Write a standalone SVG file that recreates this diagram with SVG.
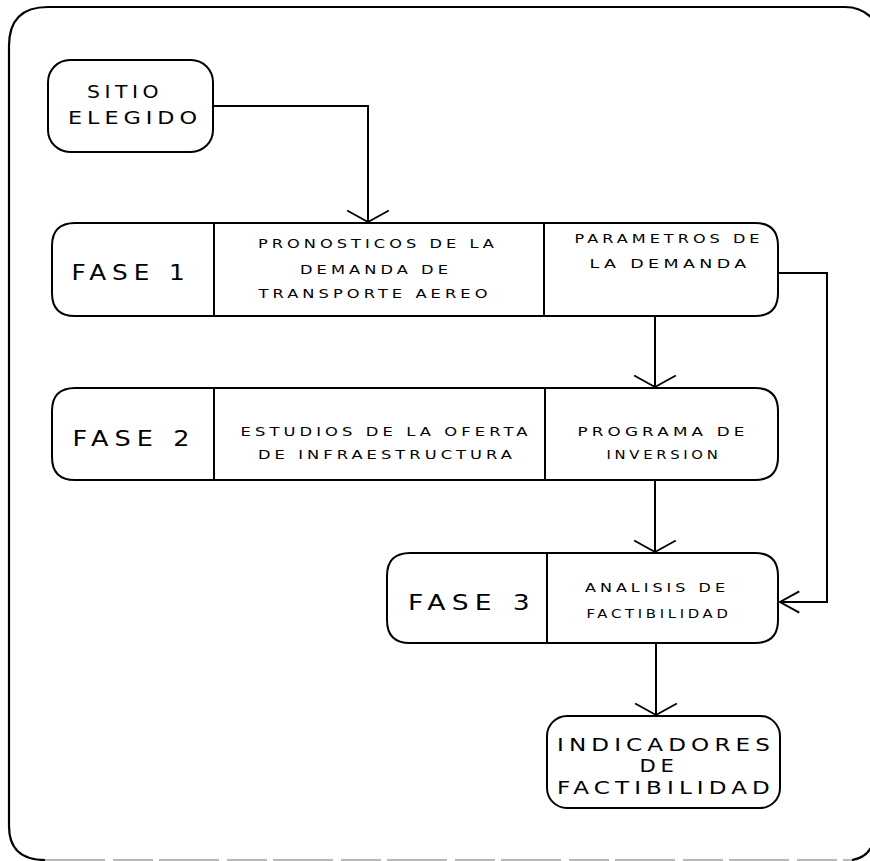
<svg xmlns="http://www.w3.org/2000/svg" width="870" height="861" viewBox="0 0 870 861">
  <style>
    .box { fill: none; stroke: #000; stroke-width: 2; stroke-linejoin: round; }
    .div { stroke: #000; stroke-width: 2; }
    .wire { fill: none; stroke: #000; stroke-width: 2; }
    .frame { fill: none; stroke: #000; stroke-width: 2.2; }
    .frame-base { fill: none; stroke: #b8b8b8; stroke-width: 2; stroke-dasharray: 60 8 40 6; }
    text { font-family: "DejaVu Sans", "Liberation Sans", sans-serif; fill: #000; text-anchor: middle; }
    .big { font-size: 21px; letter-spacing: 5px; }
    .mid { font-size: 18px; letter-spacing: 4px; }
    .small { font-size: 12px; letter-spacing: 3px; }
  </style>
  <defs>
    <marker id="vee" markerUnits="userSpaceOnUse" markerWidth="30" markerHeight="50" refX="0" refY="0" viewBox="-14 -24 18 48" orient="auto" overflow="visible">
      <path d="M -11 -20 L 0 0 L -11 20" fill="none" stroke="#000" stroke-width="1.8"/>
    </marker>
    <marker id="vee-narrow" markerUnits="userSpaceOnUse" markerWidth="30" markerHeight="30" refX="0" refY="0" viewBox="-20 -14 24 28" orient="auto" overflow="visible">
      <path d="M -18 -10 L 0 0 L -18 10" fill="none" stroke="#000" stroke-width="1.8"/>
    </marker>
  </defs>

  <rect width="870" height="861" fill="#fff"/>

  <!-- outer frame -->
  <g id="frame">
    <path class="frame" d="M 45 860 Q 9 860 9 826 V 46 Q 9 7 48 7 H 845 Q 866 7 878 26"/>
    <path class="frame" d="M 852 860 Q 866 858 872 846"/>
    <line class="frame-base" x1="45" y1="860" x2="852" y2="860"/>
  </g>

  <!-- connectors -->
  <g id="connectors">
    <path class="wire" d="M 213 106 H 368 V 222" marker-end="url(#vee)"/>
    <path class="wire" d="M 778 273 H 827 V 602 H 780" marker-end="url(#vee-narrow)"/>
    <path class="wire" d="M 655 316 V 387" marker-end="url(#vee)"/>
    <path class="wire" d="M 655 480 V 552" marker-end="url(#vee)"/>
    <path class="wire" d="M 656 643 V 715" marker-end="url(#vee)"/>
  </g>

  <!-- text widths include the trailing letter gap, so x sits half a gap right of the visible centre -->
  <g id="sitio">
    <rect class="box" x="48" y="60" width="165" height="92" rx="22"/>
    <text class="mid" x="125" y="98" textLength="76" lengthAdjust="spacingAndGlyphs">SITIO</text>
    <text class="mid" x="135" y="124" textLength="134" lengthAdjust="spacingAndGlyphs">ELEGIDO</text>
  </g>

  <g id="fase1">
    <path class="box" d="M 75 223 H 755 Q 778 223 778 246 V 293 Q 778 316 755 316 H 75 Q 52 316 52 293 V 246 Q 52 223 75 223 Z"/>
    <line class="div" x1="214" y1="223" x2="214" y2="316"/>
    <line class="div" x1="544" y1="223" x2="544" y2="316"/>
    <text class="big" x="131" y="280" textLength="119" lengthAdjust="spacingAndGlyphs">FASE 1</text>
    <text class="small" x="378" y="248" textLength="240" lengthAdjust="spacingAndGlyphs">PRONOSTICOS DE LA</text>
    <text class="small" x="376" y="274" textLength="152" lengthAdjust="spacingAndGlyphs">DEMANDA DE</text>
    <text class="small" x="375" y="298" textLength="233" lengthAdjust="spacingAndGlyphs">TRANSPORTE AEREO</text>
    <text class="small" x="669" y="243" textLength="189" lengthAdjust="spacingAndGlyphs">PARAMETROS DE</text>
    <text class="small" x="670" y="268" textLength="161" lengthAdjust="spacingAndGlyphs">LA DEMANDA</text>
  </g>

  <g id="fase2">
    <path class="box" d="M 75 388 H 755 Q 778 388 778 411 V 457 Q 778 480 755 480 H 75 Q 52 480 52 457 V 411 Q 52 388 75 388 Z"/>
    <line class="div" x1="214" y1="388" x2="214" y2="480"/>
    <line class="div" x1="545" y1="388" x2="545" y2="480"/>
    <text class="big" x="134" y="446" textLength="123" lengthAdjust="spacingAndGlyphs">FASE 2</text>
    <text class="small" x="386" y="436" textLength="291" lengthAdjust="spacingAndGlyphs">ESTUDIOS DE LA OFERTA</text>
    <text class="small" x="387" y="459" textLength="258" lengthAdjust="spacingAndGlyphs">DE INFRAESTRUCTURA</text>
    <text class="small" x="663" y="436" textLength="171" lengthAdjust="spacingAndGlyphs">PROGRAMA DE</text>
    <text class="small" x="664" y="459" textLength="115" lengthAdjust="spacingAndGlyphs">INVERSION</text>
  </g>

  <g id="fase3">
    <path class="box" d="M 410 553 H 755 Q 778 553 778 576 V 620 Q 778 643 755 643 H 410 Q 387 643 387 620 V 576 Q 387 553 410 553 Z"/>
    <line class="div" x1="547" y1="553" x2="547" y2="643"/>
    <text class="big" x="472" y="610" textLength="128" lengthAdjust="spacingAndGlyphs">FASE 3</text>
    <text class="small" x="657" y="592" textLength="144" lengthAdjust="spacingAndGlyphs">ANALISIS DE</text>
    <text class="small" x="659" y="618" textLength="145" lengthAdjust="spacingAndGlyphs">FACTIBILIDAD</text>
  </g>

  <g id="indicadores">
    <rect class="box" x="547" y="716" width="233" height="92" rx="20"/>
    <text class="mid" x="666" y="751" textLength="218" lengthAdjust="spacingAndGlyphs">INDICADORES</text>
    <text class="mid" x="659" y="772" textLength="39" lengthAdjust="spacingAndGlyphs">DE</text>
    <text class="mid" x="666" y="794" textLength="218" lengthAdjust="spacingAndGlyphs">FACTIBILIDAD</text>
  </g>
</svg>
